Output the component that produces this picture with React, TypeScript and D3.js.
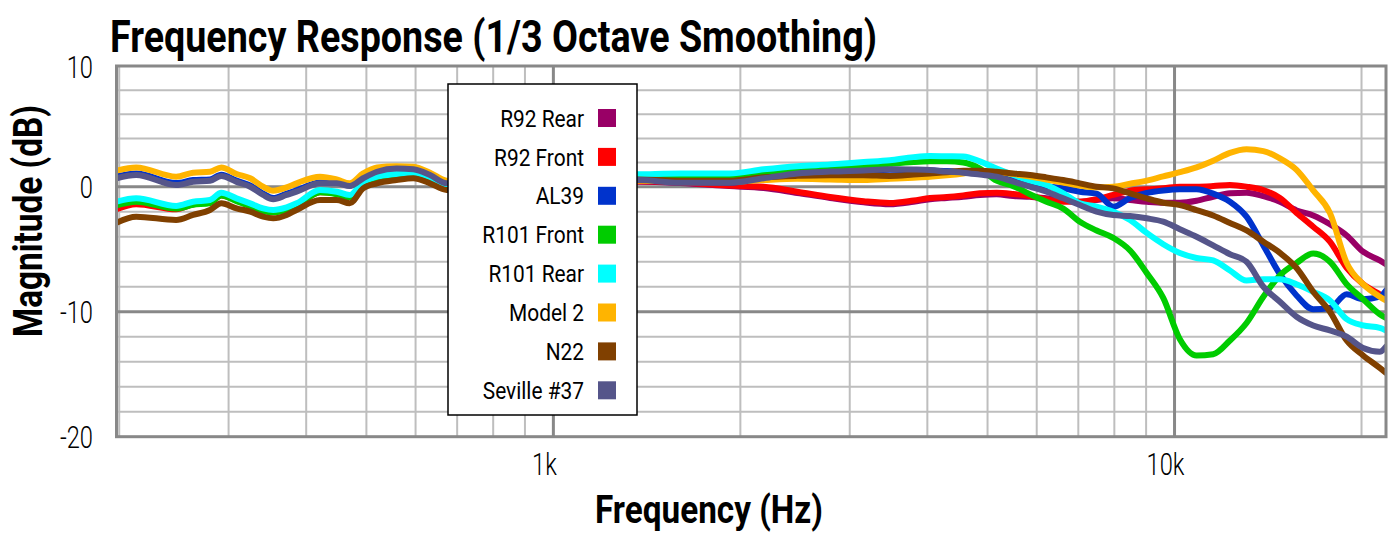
import React from 'react';
import * as d3 from 'd3';

// ---------- DATA ----------
const freqs = [198, 213, 247, 263, 280, 292, 309, 325, 341, 354, 372, 386, 421, 448, 470, 494, 520, 559, 595, 633, 673,
  800, 1000, 1200,
  1370, 1600, 1920, 2180, 2470, 2790, 3160, 3480, 3800, 4040, 4300, 4570,
  4860, 5170, 5500, 5850, 6220, 6620, 7040, 7490, 7970, 8480, 9020, 9590, 10200, 10850, 11540, 12280, 13060, 13900,
  14780, 15720, 16720, 17790, 18930, 20120, 21400, 21900];

const r92Rear = [-1.6, -1.3, -1.7, -1.4, -1.2, -0.65, -1.1, -1.5, -1.85, -1.95, -1.8, -1.5, -0.4, -0.5, -0.75, 0.3, 0.75, 1.0, 1.1, 0.72, 0.1,
  0.15, 0.3, 0.4,
  0.4, 0.3, 0.05, -0.1, -0.5, -0.9, -1.25, -1.4, -1.2, -1.0, -0.9, -0.8,
  -0.66, -0.6, -0.75, -0.8, -0.93, -1.06, -1.2, -1.06, -0.93, -1.06, -1.2, -1.28, -1.28, -1.12, -0.8, -0.53, -0.48, -0.75,
  -1.2, -1.9, -2.3, -3.0, -3.9, -5.2, -5.9, -6.2];

const r92Front = [-1.8, -1.4, -1.8, -1.4, -1.2, -0.7, -1.1, -1.5, -1.9, -2.0, -1.8, -1.5, -0.45, -0.55, -0.8, 0.25, 0.7, 0.95, 1.05, 0.7, 0.05,
  0.2, 0.35, 0.45,
  0.45, 0.35, 0.1, 0.0, -0.4, -0.83, -1.16, -1.3, -1.1, -0.9, -0.83, -0.7,
  -0.53, -0.48, -0.58, -0.75, -1.0, -1.2, -1.2, -1.0, -0.66, -0.32, -0.21, -0.13, 0.0, 0.0, 0.05, 0.14, 0.0, -0.27,
  -0.9, -2.1, -3.2, -4.4, -6.5, -7.8, -8.6, -8.9];

const al39 = [0.85, 1.1, 0.3, 0.55, 0.6, 1.0, 0.5, 0.1, -0.55, -0.9, -0.55, -0.3, 0.35, 0.35, 0.1, 0.75, 1.28, 1.55, 1.48, 1.0, 0.3,
  0.3, 0.45, 0.55,
  0.6, 0.4, 0.35, 0.7, 1.05, 1.2, 1.3, 1.4, 1.38, 1.35, 1.3, 1.2,
  1.1, 0.85, 0.55, 0.33, 0.05, -0.13, -0.4, -0.55, -1.6, -0.9, -0.5, -0.3, -0.2, -0.2, -0.55, -1.2, -2.4, -4.7,
  -7.0, -8.7, -9.8, -9.7, -8.6, -9.0, -8.8, -8.3];

const r101Front = [-1.5, -1.2, -1.75, -1.45, -1.3, -0.7, -1.15, -1.55, -1.95, -2.05, -1.85, -1.55, -0.45, -0.6, -0.85, 0.3, 0.75, 1.0, 1.1, 0.72, 0.08,
  0.4, 0.6, 0.75,
  0.8, 0.85, 0.9, 1.1, 1.3, 1.5, 1.7, 1.9, 2.05, 2.1, 2.1, 2.0,
  1.5, 0.5, 0.05, -0.6, -1.2, -1.75, -2.8, -3.5, -4.1, -5.1, -6.9, -8.9, -12.2, -13.5, -13.4, -12.3, -10.9, -8.8,
  -7.1, -6.1, -5.35, -6.0, -7.8, -9.0, -10.2, -10.5];

const r101Rear = [-1.2, -0.93, -1.54, -1.2, -1.06, -0.48, -0.93, -1.33, -1.73, -1.86, -1.65, -1.33, -0.26, -0.4, -0.66, 0.4, 0.83, 1.05, 1.16, 0.78, 0.14,
  0.5, 0.8, 1.0,
  1.03, 1.1, 1.1, 1.44, 1.7, 1.85, 2.05, 2.2, 2.45, 2.54, 2.52, 2.5,
  2.1, 1.5, 0.97, 0.5, 0.14, -0.53, -1.33, -1.6, -2.0, -2.66, -3.7, -4.6, -5.3, -5.7, -5.9, -6.7, -7.5, -7.4,
  -7.4, -7.8, -8.4, -9.1, -10.6, -11.1, -11.3, -11.5];

const model2 = [1.33, 1.6, 0.83, 1.16, 1.24, 1.6, 1.05, 0.7, 0.0, -0.32, -0.05, 0.28, 0.83, 0.6, 0.28, 1.1, 1.6, 1.7, 1.65, 1.16, 0.5,
  0.3, 0.35, 0.45,
  0.5, 0.45, 0.4, 0.55, 0.65, 0.6, 0.55, 0.65, 0.75, 0.83, 0.95, 1.1,
  1.3, 1.2, 1.05, 0.85, 0.6, 0.35, 0.1, -0.05, 0.0, 0.25, 0.5, 0.85, 1.2, 1.6, 2.15, 2.8, 3.1, 2.95,
  2.35, 1.4, -0.3, -2.1, -6.1, -7.8, -8.8, -9.1];

const n22 = [-2.88, -2.4, -2.66, -2.26, -1.86, -1.33, -1.73, -2.0, -2.4, -2.53, -2.26, -1.86, -1.06, -1.06, -1.33, -0.13, 0.28, 0.55, 0.7, 0.28, -0.26,
  0.0, 0.3, 0.5,
  0.6, 0.5, 0.5, 0.78, 0.9, 0.95, 0.95, 0.89, 1.0, 1.1, 1.2, 1.33,
  1.33, 1.24, 1.1, 0.97, 0.77, 0.55, 0.28, 0.0, -0.13, -0.53, -0.93, -1.28, -1.47, -1.87, -2.3, -2.9, -3.5, -4.4,
  -5.3, -6.5, -8.4, -10.0, -12.3, -13.5, -14.5, -14.9];

const seville37 = [0.7, 0.97, 0.14, 0.41, 0.5, 0.89, 0.4, 0.0, -0.66, -1.0, -0.66, -0.4, 0.28, 0.28, 0.05, 0.7, 1.24, 1.5, 1.44, 0.97, 0.28,
  0.3, 0.45, 0.5,
  0.55, 0.33, 0.33, 0.7, 1.1, 1.25, 1.35, 1.44, 1.42, 1.38, 1.25, 1.16,
  1.0, 0.83, 0.41, 0.0, -0.4, -0.93, -1.47, -2.0, -2.27, -2.35, -2.53, -2.8, -3.4, -4.0, -4.7, -5.4, -6.0, -8.0,
  -9.2, -10.4, -11.1, -11.5, -12.0, -12.9, -13.2, -12.8];

const seriesNames = ['R92 Rear', 'R92 Front', 'AL39', 'R101 Front', 'R101 Rear', 'Model 2', 'N22', 'Seville #37'];
const seriesValues = [r92Rear, r92Front, al39, r101Front, r101Rear, model2, n22, seville37];
const seriesColors = ['#990066', '#FF0000', '#0033CC', '#00CC00', '#00FFFF', '#FFB400', '#804000', '#55558A'];

const yTicks = [10, 0, -10, -20];
const yGrid = [8, 6, 4, 2, 0, -2, -4, -6, -8, -10, -12, -14, -16, -18];
const yMajor = [0, -10];
const xTicks = [1000, 10000];
const xTickLabels = ['1k', '10k'];
const xMinor = [200, 300, 400, 500, 600, 700, 800, 900, 2000, 3000, 4000, 5000, 6000, 7000, 8000, 9000, 20000];

const title = 'Frequency Response (1/3 Octave Smoothing)';
const xTitle = 'Frequency (Hz)';
const yTitle = 'Magnitude (dB)';

// ---------- LAYOUT ----------
const W = 1400, H = 539;
const PL = 116.5, PR = 1386, PT = 66, PB = 436.7;
const FONT = "Roboto, 'Open Sans', 'DejaVu Sans', sans-serif";

export default function App() {
  const x = d3.scaleLog().domain([198, 21900]).range([PL, PR]);
  const y = d3.scaleLinear().domain([-20, 0, 10]).range([PB, 186.7, PT]);

  const line = d3.line<number>()
    .x((_, i) => x(freqs[i]))
    .y(d => y(d))
    .curve(d3.curveMonotoneX);

  const legX = 448, legY = 84, legW = 189, legH = 331;
  const rowY0 = 118, rowStep = 38.9;

  return (
    <svg width={W} height={H} style={{ position: 'absolute', left: 0, top: 0, background: '#fff' }}>
      <defs>
        <clipPath id="plotclip">
          <rect x={PL} y={PT} width={PR - PL} height={PB - PT} />
        </clipPath>
      </defs>
      <rect x={0} y={0} width={W} height={H} fill="#fff" />

      {/* grid */}
      {yGrid.filter(v => !yMajor.includes(v)).map(v => (
        <line key={'hg' + v} x1={PL} x2={PR} y1={y(v)} y2={y(v)} stroke="#BEBEBE" strokeWidth={2} />
      ))}
      {xMinor.map(v => (
        <line key={'vg' + v} x1={x(v)} x2={x(v)} y1={PT} y2={PB} stroke="#BEBEBE" strokeWidth={2} />
      ))}
      {yMajor.map(v => (
        <line key={'hm' + v} x1={PL} x2={PR} y1={y(v)} y2={y(v)} stroke="#888888" strokeWidth={3} />
      ))}
      {xTicks.map(v => (
        <line key={'vm' + v} x1={x(v)} x2={x(v)} y1={PT} y2={PB} stroke="#888888" strokeWidth={3} />
      ))}

      {/* series */}
      <g clipPath="url(#plotclip)">
        {seriesValues.map((vals, i) => (
          <path key={seriesNames[i]} d={line(vals) || ''} fill="none" stroke={seriesColors[i]}
            strokeWidth={6} strokeLinejoin="round" strokeLinecap="round" />
        ))}
      </g>

      {/* frame */}
      <rect x={PL} y={PT} width={PR - PL} height={PB - PT} fill="none" stroke="#888888" strokeWidth={3} />

      {/* legend */}
      <rect x={legX} y={legY} width={legW} height={legH} fill="#fff" stroke="#000" strokeWidth={1.5} />
      {seriesNames.map((n, i) => {
        const cy = rowY0 + i * rowStep;
        return (
          <g key={'lg' + n}>
            <text transform={`translate(584,${cy}) scale(0.87,1)`} dy="0.36em" textAnchor="end"
              fontFamily={FONT} fontSize={24} fill="#000">{n}</text>
            <rect x={598} y={cy - 9} width={18} height={18} fill={seriesColors[i]} />
          </g>
        );
      })}

      {/* y tick labels */}
      {yTicks.map(v => (
        <text key={'yt' + v} transform={`translate(93,${y(v)}) scale(0.74,1)`} dy="0.36em" textAnchor="end"
          fontFamily={FONT} fontWeight={300} fontSize={32} fill="#000">{v}</text>
      ))}
      {/* x tick labels */}
      {xTicks.map((v, i) => (
        <text key={'xt' + v} transform={`translate(${x(v) - 9},475) scale(0.74,1)`} textAnchor="middle"
          fontFamily={FONT} fontWeight={300} fontSize={32} fill="#000">{xTickLabels[i]}</text>
      ))}

      {/* titles */}
      <text x={110} y={52} textLength={767} lengthAdjust="spacingAndGlyphs" fontFamily={FONT}
        fontWeight={700} fontSize={44} fill="#000">{title}</text>
      <text x={595} y={523} textLength={228} lengthAdjust="spacingAndGlyphs" fontFamily={FONT}
        fontWeight={700} fontSize={39} fill="#000">{xTitle}</text>
      <text transform="translate(42,337) rotate(-90)" textLength={232} lengthAdjust="spacingAndGlyphs"
        fontFamily={FONT} fontWeight={700} fontSize={40} fill="#000">{yTitle}</text>
    </svg>
  );
}
